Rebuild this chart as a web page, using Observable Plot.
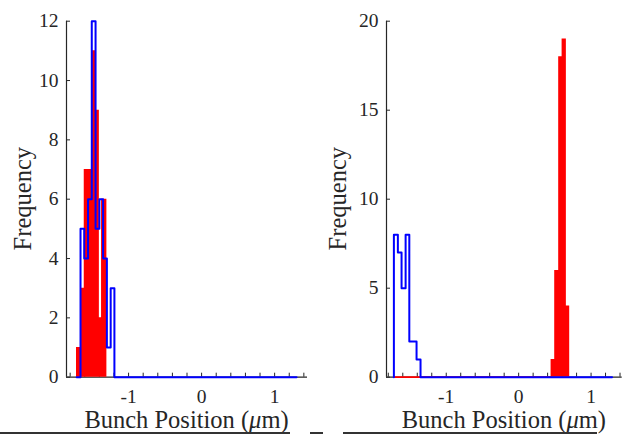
<!DOCTYPE html>
<html><head><meta charset="utf-8">
<script src="https://cdn.jsdelivr.net/npm/d3@7"></script>
<script src="https://cdn.jsdelivr.net/npm/@observablehq/plot@0.6"></script>
<style>
html,body{margin:0;padding:0;background:#fff;}
#wrap{position:relative;width:623px;height:435px;overflow:hidden;background:#fff;}
#left{position:absolute;left:0;top:0;}
#right{position:absolute;left:312px;top:0;}
.rule{position:absolute;height:1.5px;background:#333;top:432px;}
</style></head><body>
<div id="wrap"><div id="left"></div><div id="right"></div>
<div class="rule" style="left:0;width:290px"></div>
<div class="rule" style="left:310px;width:13px"></div>
<div class="rule" style="left:343px;width:254px"></div>
</div>
<script>
// ---- data ----
// left panel
const leftBlueEdges = [-1.71, -1.658, -1.607, -1.555, -1.504, -1.452, -1.400, -1.349, -1.297, -1.245, -1.194];
const leftBlueCounts = [0, 5, 4, 6, 12, 5, 6, 4, 1, 3];
const leftBlueEnd = 1.30;
const leftRedEdges = [-1.713, -1.658, -1.607, -1.555, -1.504, -1.452, -1.400, -1.37, -1.297];
const leftRedCounts = [1, 3, 7, 7, 11, 9, 2, 6];
const leftYTicks = [0, 2, 4, 6, 8, 10, 12];
// right panel
const rightBlueEdges = [-1.723, -1.668, -1.617, -1.561, -1.510, -1.461, -1.410, -1.355];
const rightBlueCounts = [8, 7, 5, 8, 2, 2, 1];
const rightBlueEnd = 1.29;
const rightRedEdges = [0.448, 0.498, 0.553, 0.600, 0.659, 0.705];
const rightRedCounts = [1, 6, 18, 19, 4];
const rightRedZeroFrom = -1.723;
const rightYTicks = [0, 5, 10, 15, 20];
// shared
const xTickLabels = [-1, 0, 1];
const xTickMarks = [-1.8, -1.6, -1.4, -1.2, -1, -0.8, -0.6, -0.4, -0.2, 0, 0.2, 0.4, 0.6, 0.8, 1, 1.2, 1.4];
const xLabelText = ["Bunch Position (", "μ", "m)"];
const yLabelText = "Frequency";

const AX = "#262626";
const FONT = "'Liberation Serif', 'Times New Roman', serif";

function panel(o) {
  const H = 435, mt = 20.7, mb = 58.3;
  const frameW = o.width - o.marginLeft - o.marginRight;
  const frameH = H - mt - mb;
  const bluePts = [{x: o.blueEdges[0], y: 0}]
    .concat(o.blueEdges.map((e, i) => ({x: e, y: i < o.blueCounts.length ? o.blueCounts[i] : 0})))
    .concat([{x: o.blueEnd, y: 0}]);
  const redPts = o.redEdges.map((e, i) => ({x: e, y: i < o.redCounts.length ? o.redCounts[i] : 0}));
  const marks = [
    Plot.ruleY([o.yDomain[0]], {stroke: AX, strokeWidth: 1.2}),
    Plot.ruleX([o.xDomain[0]], {stroke: AX, strokeWidth: 1.2}),
    Plot.ruleX(xTickMarks, {stroke: AX, strokeWidth: 1, insetTop: frameH - 4}),
    Plot.ruleY(o.yTicks, {stroke: AX, strokeWidth: 1, insetRight: frameW - 4}),
    Plot.axisX(xTickLabels, {tickSize: 0, tickPadding: 12, label: null,
      tickFormat: d => d < 0 ? "-" + (-d) : String(d)}),
    Plot.axisY(o.yTicks, {tickSize: 0, tickPadding: 8, label: null})
  ];
  if (o.redZeroFrom !== undefined) {
    marks.push(Plot.line([{x: o.redZeroFrom, y: 0}, {x: o.redEdges[0], y: 0}],
      {x: "x", y: "y", stroke: "#ff0000", strokeWidth: 1.8}));
  }
  marks.push(Plot.areaY(redPts, {x: "x", y: "y", curve: "step-after", fill: "#ff0000"}));
  marks.push(Plot.line(bluePts, {x: "x", y: "y", curve: "step-after", stroke: "#0000ff", strokeWidth: 2}));
  const node = Plot.plot({
    width: o.width, height: H,
    marginLeft: o.marginLeft, marginRight: o.marginRight, marginTop: mt, marginBottom: mb,
    x: {domain: o.xDomain, label: null},
    y: {domain: o.yDomain, label: null},
    style: {fontFamily: FONT, fontSize: "19.5px", color: AX, background: "transparent", overflow: "visible"},
    marks
  });
  const svg = d3.select(node);
  const xl = svg.append("text")
    .attr("x", o.marginLeft + frameW / 2).attr("y", 428)
    .attr("text-anchor", "middle").attr("font-size", 24.5)
    .attr("font-family", FONT).attr("fill", AX);
  xl.append("tspan").text(xLabelText[0]);
  xl.append("tspan").attr("font-style", "italic").text(xLabelText[1]);
  xl.append("tspan").text(xLabelText[2]);
  svg.append("text")
    .attr("transform", `translate(${o.ylabelX},${mt + frameH / 2}) rotate(-90)`)
    .attr("text-anchor", "middle").attr("font-size", 24.5)
    .attr("font-family", FONT).attr("fill", AX)
    .text(yLabelText);
  return node;
}

document.getElementById("left").appendChild(panel({
  width: 312, marginLeft: 66, marginRight: 5,
  xDomain: [-1.85, 1.45], yDomain: [0, 12], yTicks: leftYTicks,
  blueEdges: leftBlueEdges, blueCounts: leftBlueCounts, blueEnd: leftBlueEnd,
  redEdges: leftRedEdges, redCounts: leftRedCounts, ylabelX: 31
}));
document.getElementById("right").appendChild(panel({
  width: 311, marginLeft: 74, marginRight: 1.3,
  xDomain: [-1.825, 1.43], yDomain: [0, 20], yTicks: rightYTicks,
  blueEdges: rightBlueEdges, blueCounts: rightBlueCounts, blueEnd: rightBlueEnd,
  redEdges: rightRedEdges, redCounts: rightRedCounts, redZeroFrom: rightRedZeroFrom, ylabelX: 34
}));
</script>
</body></html>
